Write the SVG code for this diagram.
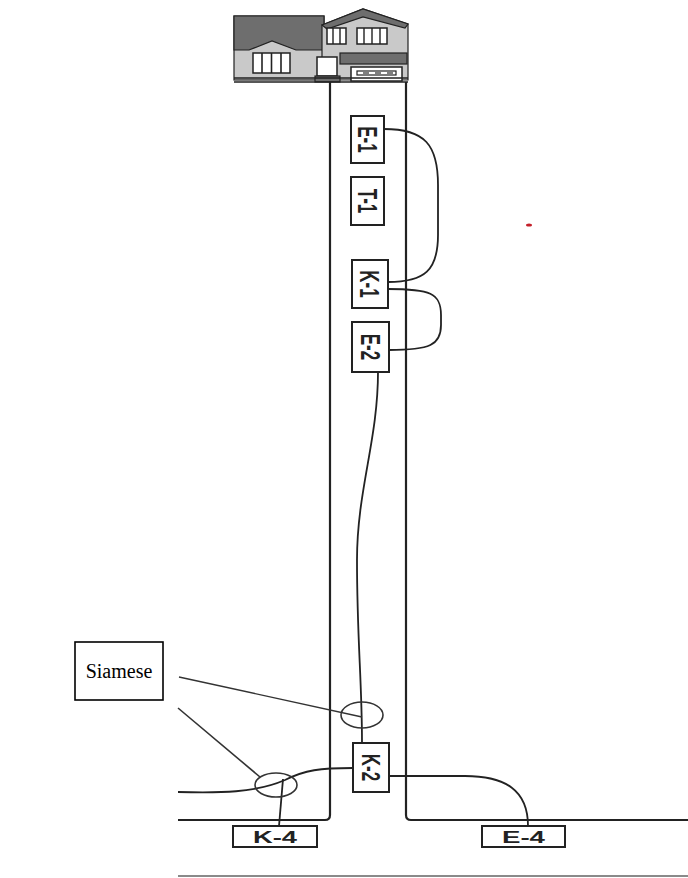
<svg xmlns="http://www.w3.org/2000/svg" width="688" height="878" viewBox="0 0 688 878">
  <style>
    .road { fill: none; stroke: #222; stroke-width: 2.2; }
    .wire { fill: none; stroke: #222; stroke-width: 1.8; }
    .box { fill: #fff; stroke: #222; stroke-width: 2; }
    .lbl { font-family: "Liberation Sans", Arial, sans-serif; font-weight: bold; fill: #222; text-anchor: middle; dominant-baseline: central; }
    .tall { font-size: 17px; }
    .flat { font-size: 16px; }
    .roof { fill: #6e6e6e; stroke: #222; stroke-width: 1.2; }
    .wall { fill: #c9c9c9; stroke: #222; stroke-width: 1.2; }
    .win { fill: #fff; stroke: #222; stroke-width: 1.5; }
    .ring { fill: none; stroke: #333; stroke-width: 1.6; }
  </style>

  <rect width="688" height="878" fill="#fff"/>

  <!-- house at the head of the driveway -->
  <g id="house">
    <!-- left wing -->
    <rect class="wall" x="234" y="16" width="90" height="64"/>
    <path class="roof" d="M234,16 H324 V50 H296 L272,41 L249,50 H234 Z"/>
    <rect class="win" x="253" y="53" width="37" height="20"/>
    <path d="M262,53 V73 M271.5,53 V73 M281,53 V73" stroke="#222" stroke-width="1.6"/>
    <!-- two-storey wing -->
    <path class="wall" d="M322,25 L363,9 L408,24 V80 H322 Z"/>
    <path class="roof" d="M322,25 L363,9 L408,24 L405,28 L363,17 L327,29 Z"/>
    <rect class="win" x="327" y="28" width="19" height="16"/>
    <path d="M333,28 V44 M340,28 V44" stroke="#222" stroke-width="1.4"/>
    <rect class="win" x="357" y="28" width="30" height="16"/>
    <path d="M364,28 V44 M372,28 V44 M380,28 V44" stroke="#222" stroke-width="1.4"/>
    <!-- garage -->
    <rect class="roof" x="340" y="53" width="67" height="11"/>
    <rect class="win" x="351" y="67" width="51" height="14"/>
    <rect x="357" y="71" width="39" height="4" fill="#fff" stroke="#222" stroke-width="1.2"/>
    <path d="M363,73 H369 M375,73 H381 M387,73 H393" stroke="#555" stroke-width="1.6"/>
    <!-- front door and step -->
    <rect class="win" x="317" y="57" width="20" height="19"/>
    <rect x="315" y="76" width="25" height="6" fill="#6e6e6e" stroke="#222" stroke-width="1.2"/>
    <!-- base -->
    <path d="M234,78 H408 M234,82 H408" stroke="#222" stroke-width="1.4"/>
  </g>

  <!-- street edges -->
  <g id="street">
    <path class="road" d="M330,82 V815 Q330,820 325,820 H178"/>
    <path class="road" d="M406,82 V815 Q406,820 411,820 H688"/>
    <path d="M178,876 H688" stroke="#8a8a8a" stroke-width="2"/>
  </g>

  <!-- cable runs between the boxes -->
  <g id="connectors">
    <path class="wire" d="M384,129 C425,129 438,145 438,185 L438,235 C438,270 425,282 388,282"/>
    <path class="wire" d="M388,289 C430,289 441,293 441,315 L441,325 C441,345 430,350 389,350"/>
    <path class="wire" d="M378,372 C378,440 357,490 357,560 C357,640 362,680 362,743"/>
    <path class="wire" d="M353,768 C320,768 305,770 285,780 C255,793 220,793 178,792"/>
    <path class="wire" d="M279,826 L283,779"/>
    <path class="wire" d="M389,776 H465 C505,776 528,790 528,826"/>
    <!-- leader lines from the callout -->
    <path d="M179,677 L362,717" stroke="#333" stroke-width="1.4" fill="none"/>
    <path d="M178,708 L260,777" stroke="#333" stroke-width="1.6" fill="none"/>
  </g>

  <!-- siamese fittings -->
  <g id="siamese-upper">
    <ellipse class="ring" cx="362" cy="715" rx="21" ry="13"/>
  </g>
  <g id="siamese-lower">
    <ellipse class="ring" cx="276" cy="785" rx="21" ry="12"/>
  </g>

  <!-- driveway boxes: labels read top to bottom -->
  <g id="E-1">
    <rect class="box" x="351" y="116" width="33" height="47"/>
    <text class="lbl tall" transform="translate(367.5,139.5) rotate(90) scale(1,1.6)">E-1</text>
  </g>
  <g id="T-1">
    <rect class="box" x="351" y="177" width="33" height="48"/>
    <text class="lbl tall" transform="translate(367.5,201) rotate(90) scale(1,1.6)">T-1</text>
  </g>
  <g id="K-1">
    <rect class="box" x="352" y="260" width="36" height="48"/>
    <text class="lbl tall" transform="translate(370,284) rotate(90) scale(1,1.6)">K-1</text>
  </g>
  <g id="E-2">
    <rect class="box" x="352" y="322" width="37" height="50"/>
    <text class="lbl tall" transform="translate(370.5,347) rotate(90) scale(1,1.6)">E-2</text>
  </g>
  <g id="K-2">
    <rect class="box" x="353" y="743" width="36" height="49"/>
    <text class="lbl tall" transform="translate(371,767.5) rotate(90) scale(1,1.5)">K-2</text>
  </g>

  <!-- street boxes -->
  <g id="K-4">
    <rect class="box" x="233" y="826" width="84" height="21"/>
    <text class="lbl flat" x="275" y="837" textLength="44" lengthAdjust="spacingAndGlyphs">K-4</text>
  </g>
  <g id="E-4">
    <rect class="box" x="482" y="826" width="83" height="21"/>
    <text class="lbl flat" x="523.5" y="837" textLength="43" lengthAdjust="spacingAndGlyphs">E-4</text>
  </g>

  <!-- callout -->
  <g id="siamese-label">
    <rect x="75" y="642" width="88" height="58" fill="#fff" stroke="#000" stroke-width="1.6"/>
    <text x="119" y="678" font-family="'Liberation Serif', 'Times New Roman', serif" font-size="20" text-anchor="middle" fill="#000">Siamese</text>
  </g>

  <!-- marker dot -->
  <ellipse cx="529" cy="225" rx="3" ry="1.6" fill="#c4202a"/>
</svg>
